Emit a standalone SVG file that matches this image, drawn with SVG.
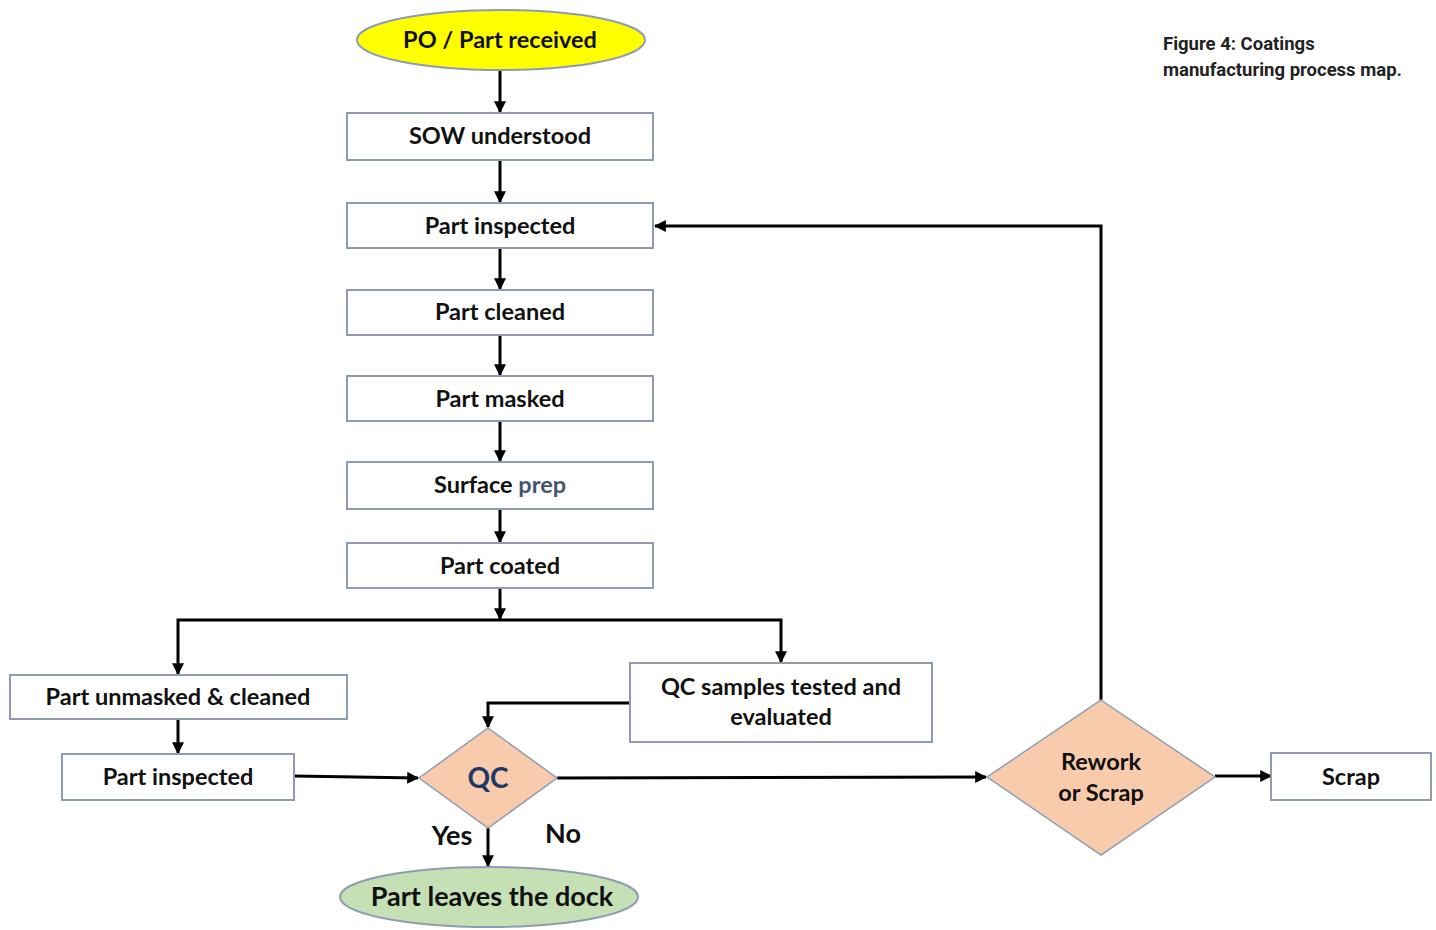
<svg xmlns="http://www.w3.org/2000/svg" width="1436" height="930" viewBox="0 0 1436 930">
<style>
.box{fill:#fff;stroke:#8e9cb3;stroke-width:2}
.dia{fill:#f8cbad;stroke:#8e9cb3;stroke-width:1.5}
.t{font-family:Lato,"Open Sans",sans-serif;font-weight:700;font-size:23.5px;fill:#111;text-anchor:middle}
.c{fill:none;stroke:#000;stroke-width:3}
.cap{font-family:Roboto,"Liberation Sans",sans-serif;font-weight:700;font-size:18.5px;fill:#222}
</style>
<defs>
<marker id="ah" viewBox="0 0 10 10" refX="9" refY="5" markerWidth="4" markerHeight="4" orient="auto" markerUnits="strokeWidth">
<path d="M0,0 L10,5 L0,10 z" fill="#000"/>
</marker>
</defs>
<rect width="1436" height="930" fill="#fff"/>
<g id="connectors">
<path class="c" d="M500,71 V112" marker-end="url(#ah)"/>
<path class="c" d="M500,160 V202" marker-end="url(#ah)"/>
<path class="c" d="M500,248 V289" marker-end="url(#ah)"/>
<path class="c" d="M500,335 V375" marker-end="url(#ah)"/>
<path class="c" d="M500,421 V461" marker-end="url(#ah)"/>
<path class="c" d="M500,509 V542" marker-end="url(#ah)"/>
<path class="c" d="M500,588 V619" marker-end="url(#ah)"/>
<path class="c" d="M500,620 H178 V674" marker-end="url(#ah)"/>
<path class="c" d="M500,620 H781 V662" marker-end="url(#ah)"/>
<path class="c" d="M178,719 V753" marker-end="url(#ah)"/>
<path class="c" d="M630,703 H488 V727" marker-end="url(#ah)"/>
<path class="c" d="M294,776 L418,778" marker-end="url(#ah)"/>
<path class="c" d="M488,828 V866" marker-end="url(#ah)"/>
<path class="c" d="M557,778 L986,777" marker-end="url(#ah)"/>
<path class="c" d="M1215,776 H1271" marker-end="url(#ah)"/>
<path class="c" d="M1101,700 V226 H655" marker-end="url(#ah)"/>
</g>
<g id="po">
<ellipse cx="501" cy="40" rx="144" ry="30" fill="#ffff00" stroke="#8e9cb3" stroke-width="2"/>
<text class="t" x="500" y="48">PO / Part received</text>
</g>
<g id="sow"><rect class="box" x="347" y="113" width="306" height="47"/><text class="t" x="500" y="144">SOW understood</text></g>
<g id="inspected1"><rect class="box" x="347" y="203" width="306" height="45"/><text class="t" x="500" y="234">Part inspected</text></g>
<g id="cleaned"><rect class="box" x="347" y="290" width="306" height="45"/><text class="t" x="500" y="320">Part cleaned</text></g>
<g id="masked"><rect class="box" x="347" y="376" width="306" height="45"/><text class="t" x="500" y="407">Part masked</text></g>
<g id="surface"><rect class="box" x="347" y="462" width="306" height="47"/><text class="t" x="500" y="493">Surface <tspan fill="#44546a">prep</tspan></text></g>
<g id="coated"><rect class="box" x="347" y="543" width="306" height="45"/><text class="t" x="500" y="574">Part coated</text></g>
<g id="unmasked"><rect class="box" x="10" y="675" width="337" height="44"/><text class="t" x="178" y="705">Part unmasked &amp; cleaned</text></g>
<g id="inspected2"><rect class="box" x="62" y="754" width="232" height="46"/><text class="t" x="178" y="785">Part inspected</text></g>
<g id="qcsamples"><rect class="box" x="630" y="663" width="302" height="79"/><text class="t" x="781" y="695">QC samples tested and</text><text class="t" x="781" y="725">evaluated</text></g>
<g id="qc"><polygon class="dia" points="488,728 557,778 488,828 419,778"/><text class="t" x="488" y="788" style="font-size:28px;fill:#1f3864">QC</text></g>
<g id="dock"><ellipse cx="489" cy="897" rx="149" ry="30" fill="#c5e0b4" stroke="#8e9cb3" stroke-width="2"/><text class="t" x="492" y="906" style="font-size:27px">Part leaves the dock</text></g>
<g id="rework"><polygon class="dia" points="1101,700 1215,777 1101,855 987,777"/><text class="t" x="1101" y="770">Rework</text><text class="t" x="1101" y="801">or Scrap</text></g>
<g id="scrap"><rect class="box" x="1271" y="753" width="160" height="47"/><text class="t" x="1351" y="785">Scrap</text></g>
<g id="labels">
<text class="t" x="452" y="845" style="font-size:27px">Yes</text>
<text class="t" x="563" y="843" style="font-size:27px">No</text>
</g>
<g id="caption">
<text class="cap" x="1163" y="50">Figure 4: Coatings</text>
<text class="cap" x="1163" y="76">manufacturing process map.</text>
</g>
</svg>
